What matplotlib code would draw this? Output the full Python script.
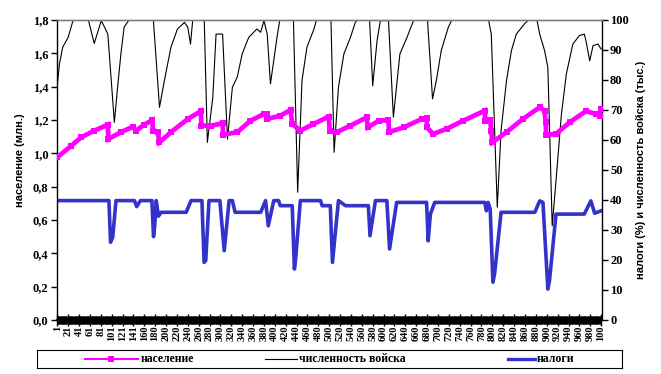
import matplotlib
matplotlib.use('Agg')
import matplotlib.pyplot as plt
from matplotlib.ticker import FuncFormatter

# x tick labels (category axis, label every 20 categories)
x_labels = ['1', '21', '41', '61', '81', '101', '121', '141'] + \
           [str(v) for v in range(160, 1000, 20)] + ['100']

# население (млн.) - breakpoints
pop_x = [0, 26, 44, 68, 93, 94, 117, 139, 145, 160, 175, 176, 185, 188, 209, 240, 264,
         265, 283, 304, 305, 331, 355, 380, 385, 386, 410, 429, 432, 447, 471, 499, 501,
         514, 539, 569, 571, 591, 609, 610, 637, 670, 679, 680, 691, 716, 746, 786, 787,
         796, 798, 800, 826, 856, 887, 896, 898, 899, 917, 942, 972, 991, 997, 1000]
pop_v = [0.976, 1.046, 1.096, 1.136, 1.172, 1.086, 1.127, 1.159, 1.136, 1.172, 1.200, 1.132,
         1.127, 1.066, 1.127, 1.206, 1.253, 1.166, 1.166, 1.181, 1.112, 1.127, 1.195, 1.236,
         1.236, 1.206, 1.226, 1.260, 1.176, 1.136, 1.176, 1.220, 1.136, 1.127, 1.166, 1.216,
         1.156, 1.195, 1.200, 1.127, 1.156, 1.206, 1.212, 1.156, 1.116, 1.147, 1.195, 1.256,
         1.195, 1.200, 1.136, 1.066, 1.127, 1.206, 1.276, 1.256, 1.186, 1.112, 1.116, 1.186,
         1.253, 1.236, 1.226, 1.265]

# численность войска (тыс.)
army_x = [0, 4, 10, 20, 29, 31, 44, 56, 68, 81, 87, 93, 105, 111, 117, 123, 133, 142, 154,
          176, 188, 197, 209, 221, 234, 240, 245, 249, 252, 261, 270, 276, 286, 292, 304,
          313, 322, 331, 340, 352, 367, 374, 380, 386, 392, 404, 410, 423, 434, 442, 450,
          459, 472, 478, 490, 503, 509, 517, 527, 539, 548, 557, 574, 580, 588, 594, 609,
          618, 630, 643, 655, 661, 673, 680, 690, 697, 706, 719, 728, 758, 792, 798, 809,
          816, 826, 835, 844, 859, 872, 881, 887, 896, 902, 910, 917, 927, 936, 948, 960,
          969, 972, 979, 985, 994, 1000]
army_v = [78.1, 85.3, 90.9, 94.2, 99.8, 103, 104, 100.9, 92.2, 99.8, 97.6, 95.3, 65.9, 77.6,
          88.7, 97.6, 100.3, 101.4, 104, 102, 70.9, 79.8, 90.9, 97.0, 99.2, 97.6, 92.0, 99.8,
          102, 104, 102, 59.2, 74.2, 95.3, 95.3, 60.3, 77.6, 81.0, 88.7, 94.2, 97.0, 95.9,
          99.8, 95.3, 78.7, 94.2, 100.9, 104, 102, 42.6, 79.8, 90.9, 97.0, 100.9, 104, 102,
          55.9, 77.6, 88.7, 94.2, 99.2, 100.9, 100.9, 78.1, 93.1, 99.8, 99.8, 67.6, 88.7,
          94.2, 99.8, 102, 104, 102, 73.7, 79.8, 89.8, 97.6, 100.9, 104, 100.9, 95.3, 37.6,
          63.1, 79.8, 89.8, 95.3, 98.7, 100.9, 100.9, 95.3, 89.8, 84.2, 31.4, 46.4, 68.7,
          82.0, 92.0, 94.8, 95.3, 93.1, 86.4, 91.4, 92.0, 90.3]

# налоги (%)
tax_x = [0, 95, 98, 102, 108, 142, 146, 153, 174, 177, 179, 182, 186, 191, 237, 246, 266,
         270, 273, 279, 299, 307, 316, 322, 327, 374, 383, 388, 398, 407, 410, 432, 436,
         438, 447, 484, 487, 502, 506, 517, 530, 572, 575, 585, 606, 611, 624, 679, 682,
         686, 694, 786, 789, 792, 796, 801, 804, 816, 878, 887, 893, 902, 905, 917, 969,
         981, 988, 1000]
tax_v = [39.8, 39.8, 25.9, 27.6, 39.8, 39.8, 37.8, 39.8, 39.8, 27.8, 30.9, 39.8, 34.6, 35.9,
         35.9, 39.8, 39.8, 19.2, 19.8, 39.8, 39.8, 23.1, 39.8, 39.8, 35.9, 35.9, 39.8, 31.4,
         39.8, 39.8, 38.1, 38.1, 17.0, 19.8, 39.8, 39.8, 38.1, 38.1, 19.2, 39.8, 38.1, 38.1,
         28.1, 39.8, 39.8, 23.7, 39.2, 39.2, 26.4, 35.3, 39.2, 39.2, 36.4, 39.2, 37.0, 12.6,
         15.3, 35.9, 35.9, 39.7, 39.2, 10.3, 13.1, 35.3, 35.3, 39.7, 35.6, 36.4]

W, H = 661, 374
fig = plt.figure(figsize=(W / 100, H / 100), dpi=100)
ax = fig.add_axes([56.7 / W, 1 - 320 / H, 545 / W, 300 / H])
ax2 = ax.twinx()

serif = {'family': 'Liberation Serif', 'weight': 'bold'}
sans = {'family': 'Liberation Sans', 'weight': 'bold'}

MAG = '#FF00FF'
BLUE = '#3333CC'

ax.plot(pop_x, pop_v, color=MAG, lw=3.4, marker='s', ms=4, mew=0,
        solid_joinstyle='miter', zorder=3)
ax2.plot(army_x, army_v, color='black', lw=0.8)
ax2.plot(tax_x, tax_v, color=BLUE, lw=2.6)

ax.set_xlim(-1, 1001)
ax.set_ylim(0, 1.8)
ax2.set_ylim(0, 100)
ax.set_zorder(ax2.get_zorder() + 1)
ax.patch.set_visible(False)

ax.set_yticks([i * 0.2 for i in range(10)])
ax.yaxis.set_major_formatter(FuncFormatter(lambda v, p: f'{v:.1f}'.replace('.', ',')))
ax2.set_yticks(range(0, 101, 10))

ax.set_xticks(range(0, 1001, 20))
ax.set_xticklabels(x_labels, rotation=90, fontdict=serif, fontsize=7.5)
ax.set_xticks(range(0, 1001, 1), minor=True)
ax.tick_params(axis='x', which='major', direction='inout', length=8, width=1, pad=0)
ax.tick_params(axis='x', which='minor', direction='inout', length=6, width=0.8)

ax.tick_params(axis='y', direction='out', length=4, width=1, pad=2)
ax2.tick_params(axis='y', direction='out', length=4, width=1, pad=2)
for lab in ax.get_yticklabels() + ax2.get_yticklabels():
    lab.set_fontproperties('Liberation Serif')
    lab.set_fontweight('bold')
    lab.set_fontsize(9)

for a in (ax, ax2):
    a.spines['top'].set_color('#808080')
    a.spines['top'].set_linewidth(1)
ax.spines['right'].set_visible(False)
ax2.spines['left'].set_visible(False)
ax2.spines['bottom'].set_visible(False)
ax.spines['left'].set_linewidth(1)
ax2.spines['right'].set_linewidth(1)
ax.spines['bottom'].set_linewidth(1.2)

fig.text(20 / W, 1 - 160 / H, 'население (млн.)', rotation=90, ha='center', va='center',
         fontdict=sans, fontsize=8)
fig.text(641 / W, 1 - 170 / H, 'налоги (%) и численность войска (тыс.)', rotation=90,
         ha='center', va='center', fontdict=sans, fontsize=8)

# legend box
lg = fig.add_axes([37 / W, 1 - 368 / H, 585 / W, 18 / H])
lg.set_xlim(37, 622)
lg.set_ylim(0, 18)
lg.set_xticks([])
lg.set_yticks([])
for s in lg.spines.values():
    s.set_linewidth(0.8)
lg.plot([85, 138], [9, 9], color=MAG, lw=1.5)
lg.plot([111], [9], color=MAG, marker='s', ms=5, mew=0)
lg.text(141, 8.5, 'население', va='center', fontdict=serif, fontsize=8.5)
lg.plot([265, 297], [9, 9], color='black', lw=0.8)
lg.text(299, 8.5, 'численность войска', va='center', fontdict=serif, fontsize=8.5)
lg.plot([508, 535], [9, 9], color=BLUE, lw=2.4)
lg.text(537, 8.5, 'налоги', va='center', fontdict=serif, fontsize=8.5)

fig.savefig('out.png', dpi=100)
